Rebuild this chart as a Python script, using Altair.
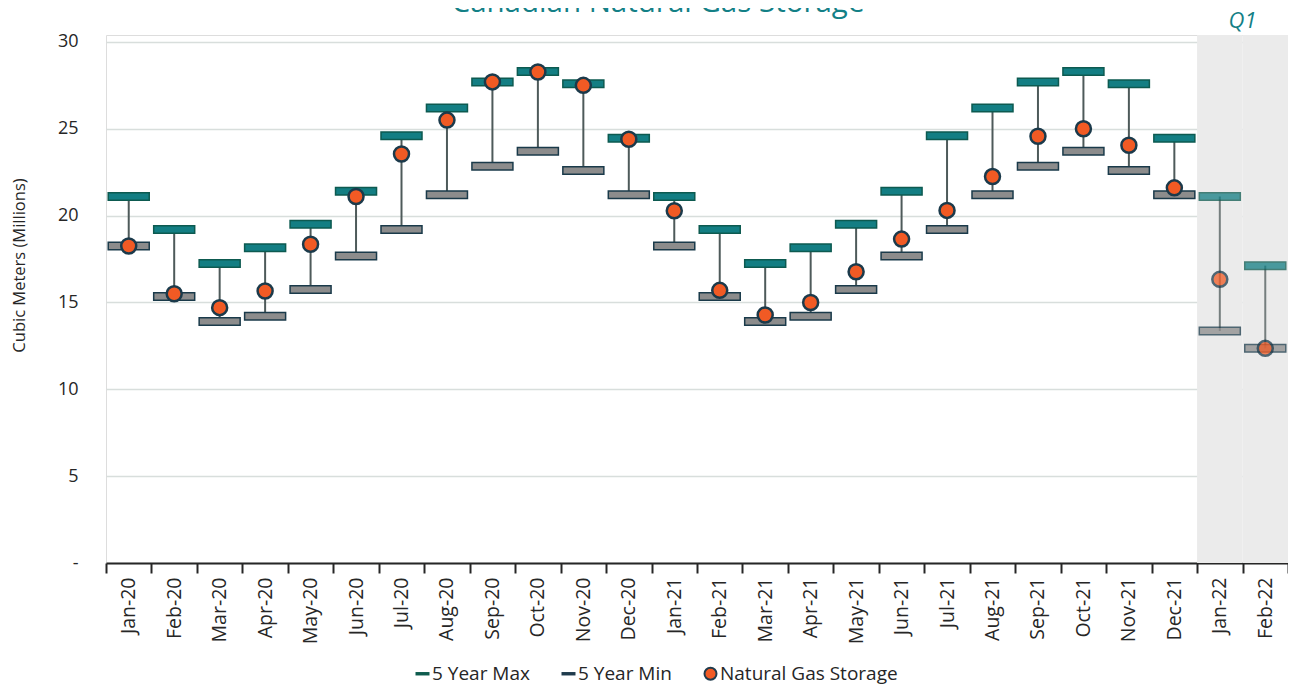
import altair as alt
import pandas as pd

months = ["Jan-20", "Feb-20", "Mar-20", "Apr-20", "May-20", "Jun-20", "Jul-20", "Aug-20",
          "Sep-20", "Oct-20", "Nov-20", "Dec-20", "Jan-21", "Feb-21", "Mar-21", "Apr-21",
          "May-21", "Jun-21", "Jul-21", "Aug-21", "Sep-21", "Oct-21", "Nov-21", "Dec-21",
          "Jan-22", "Feb-22"]
max5 = [21.1, 19.2, 17.25, 18.15, 19.5, 21.4, 24.6, 26.2, 27.7, 28.3, 27.6, 24.45,
        21.1, 19.2, 17.25, 18.15, 19.5, 21.4, 24.6, 26.2, 27.7, 28.3, 27.6, 24.45,
        21.1, 17.12]
min5 = [18.25, 15.35, 13.9, 14.2, 15.75, 17.67, 19.2, 21.2, 22.85, 23.7, 22.6, 21.2,
        18.25, 15.35, 13.9, 14.2, 15.75, 17.67, 19.2, 21.2, 22.85, 23.7, 22.6, 21.2,
        13.36, 12.36]
storage = [18.25, 15.5, 14.7, 15.66, 18.35, 21.1, 23.55, 25.5, 27.7, 28.27, 27.5, 24.4,
           20.28, 15.7, 14.28, 15.0, 16.77, 18.65, 20.3, 22.25, 24.57, 25.0, 24.05, 21.6,
           16.33, 12.36]
q1_months = ["Jan-22", "Feb-22"]
legend_names = ["5 Year Max", "5 Year Min", "Natural Gas Storage"]
y_ticks = [0, 5, 10, 15, 20, 25, 30]
title_text = "Canadian Natural Gas Storage"

FONT = "Open Sans"
W, H = 1182, 528
NBSP = "\u00a0"

df = pd.DataFrame({"month": months, "max5": max5, "min5": min5, "storage": storage})
df["q1"] = df["month"].isin(q1_months)
shade_df = pd.DataFrame({"month": q1_months})
q1_df = pd.DataFrame({"month": [q1_months[0]], "label": ["Q1"]})
title_df = pd.DataFrame({"t": [title_text]})
legend_df = pd.DataFrame({"series": legend_names, "v": [None, None, None]})

x_scale = alt.Scale(type="band", domain=months, paddingInner=0, paddingOuter=0)
x_enc = alt.X(
    "month:N",
    sort=months,
    scale=x_scale,
    axis=alt.Axis(
        title=None, labelAngle=-90, labelFontSize=19.5, labelColor="#262626", labelFont=FONT,
        tickBand="extent", tickSize=10, tickWidth=2, tickColor="#262626",
        domainColor="#262626", domainWidth=2, labelPadding=4, grid=False,
    ),
)
y_scale = alt.Scale(domain=[0, 30.4], nice=False)
y_axis = alt.Axis(
    values=y_ticks,
    labelExpr=f"datum.value == 0 ? '-{NBSP}{NBSP}{NBSP}' : datum.label",
    grid=True, gridColor="#D8DEDC", gridWidth=1.5, domain=False, ticks=False,
    labelPadding=28, labelFontSize=18, labelColor="#262626", labelFont=FONT,
    title="Cubic Meters (Millions)", titleFontSize=16.5, titleFontWeight="normal",
    titleColor="#262626", titleFont=FONT, titlePadding=30, titleY=230,
)

fade = alt.condition("datum.q1", alt.value(0.75), alt.value(1))

base = alt.Chart(df).encode(x=x_enc)

shade = alt.Chart(shade_df).mark_bar(color="#EBEBEB").encode(
    x=x_enc, y=alt.value(0), y2=alt.value(H)
)

rule = base.mark_rule(color="#4E5A5A", strokeWidth=2).encode(
    y=alt.Y("max5:Q", scale=y_scale, axis=y_axis), y2="min5:Q", opacity=fade
)
min_tick = base.mark_tick(size=41, thickness=7.5, color="#8C8C8C", fill="#8C8C8C",
                          stroke="#1A3A4A", strokeWidth=1.5).encode(
    y=alt.Y("min5:Q", scale=y_scale, axis=y_axis), opacity=fade
)
max_tick = base.mark_tick(size=41, thickness=7.5, color="#137E83", fill="#137E83",
                          stroke="#0D5A50", strokeWidth=1.5).encode(
    y=alt.Y("max5:Q", scale=y_scale, axis=y_axis), opacity=fade
)
dots = base.mark_point(filled=True, fill="#F15A24", stroke="#1B3A4B", strokeWidth=2.5,
                       size=225, shape="circle").encode(
    y=alt.Y("storage:Q", scale=y_scale, axis=y_axis),
    opacity=fade,
)

q1_text = alt.Chart(q1_df).mark_text(
    font=FONT, fontSize=22, fontStyle="italic", color="#138086", baseline="middle"
).encode(
    x=alt.X("month:N", sort=months, bandPosition=1, scale=x_scale),
    y=alt.datum(31.2, scale=y_scale),
    text="label:N",
)

title_layer = alt.Chart(title_df).mark_text(
    font=FONT, fontSize=29.5, color="#138086", baseline="alphabetic", align="center"
).encode(
    x=alt.value(552), y=alt.value(-23.5), text="t:N"
)

leg = alt.Legend(
    title=None, orient="none", direction="horizontal", legendX=307, legendY=629,
    labelFontSize=19, labelColor="#262626", labelFont=FONT, symbolSize=144,
    symbolStrokeWidth=2, columnPadding=28, labelOffset=0, padding=0,
    labelLimit=400, symbolOpacity=1,
)
legend_layer = alt.Chart(legend_df).mark_point(filled=True, opacity=1).encode(
    x=alt.value(0),
    y=alt.Y("v:Q", scale=y_scale),
    fill=alt.Fill("series:N", scale=alt.Scale(domain=legend_names,
                  range=["#0E5C4E", "#1F3B4D", "#F15A24"]), legend=leg),
    stroke=alt.Stroke("series:N", scale=alt.Scale(domain=legend_names,
                      range=["#0E5C4E", "#1F3B4D", "#1F3B4D"]), legend=leg),
    shape=alt.Shape("series:N", scale=alt.Scale(domain=legend_names,
                    range=["M-1,-0.12H1V0.12H-1Z", "M-1,-0.12H1V0.12H-1Z", "circle"]),
                    legend=leg),
)

chart = alt.layer(shade, rule, min_tick, max_tick, dots, q1_text, title_layer,
                  legend_layer).properties(
    width=W, height=H,
    autosize=alt.AutoSizeParams(type="none"),
    padding={"left": 98, "top": 27, "right": 0, "bottom": 122},
).configure_view(stroke=None).configure(background="white")

chart.save("out.html", embed_options={"renderer": "svg", "actions": False})
